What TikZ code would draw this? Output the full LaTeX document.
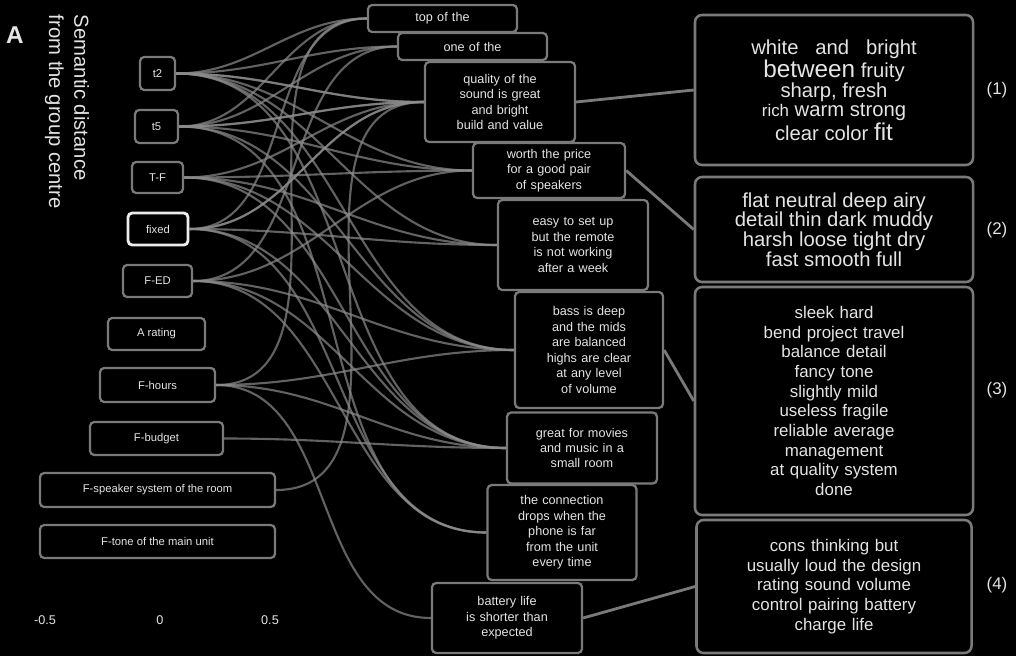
\documentclass[tikz,border=0pt]{standalone}
\usepackage{fontspec}
\setmainfont{Liberation Sans}
\usepackage{tikz}
\usetikzlibrary{
  positioning,
  calc
}
\usepackage{xcolor}
\definecolor{bgblack}{HTML}{000000}
\definecolor{framegray}{HTML}{7A7A7A}
\definecolor{linkgray}{HTML}{8C8C8C}
\definecolor{inkwhite}{HTML}{E4E4E4}
\tikzset{
  boxsize/.style 2 args={minimum width=#1*0.025cm, minimum height=#2*0.025cm},
  termbox/.style={
    rectangle, draw=framegray, rounded corners=3pt, line width=1.6pt,
    inner sep=1pt, font=\footnotesize, text=inkwhite, align=center
  },
  phrasebox/.style={
    rectangle, draw=framegray, rounded corners=3pt, line width=1.6pt,
    inner sep=2pt, font=\small, text=inkwhite, align=center,
    text width=3.5cm
  },
  cloudbox/.style={
    rectangle, draw=framegray, rounded corners=5pt, line width=1.8pt,
    inner sep=3pt, font=\large, text=inkwhite, align=center, text width=6.5cm
  },
  link/.style={draw=linkgray, line width=1.5pt, opacity=0.7},
  feed/.style={draw=framegray, line width=2pt},
}

\begin{document}
\begin{tikzpicture}[x=0.025cm, y=-0.025cm]

\fill[bgblack] (0,0) rectangle (1016,656);
\useasboundingbox (0,0) rectangle (1016,656);

% Panel label and axis title
\node[font=\LARGE\bfseries, text=inkwhite] (panel) at (15,35) {A};
\node[rotate=-90, anchor=north west, align=left, font=\Large, text=inkwhite] (axtitle) at (94,10) {Semantic distance\\from the group centre};

% Terms
\node[termbox, boxsize={35}{33}] (L1) at (157.5,73.5) {t2};
\node[termbox, boxsize={43}{33}] (L2) at (156.5,126.5) {t5};
\node[termbox, boxsize={51}{31}] (L3) at (157.5,177.5) {T-F};
\node[termbox, boxsize={60}{32}, line width=2pt, draw=inkwhite!70] (L4) at (158,229) {fixed};
\node[termbox, boxsize={69}{32}] (L5) at (157.5,281) {F-ED};
\node[termbox, boxsize={97}{32}] (L6) at (156.5,334) {A rating};
\node[termbox, boxsize={115}{34}] (L7) at (157.5,385) {F-hours};
\node[termbox, boxsize={133}{33}] (L8) at (156.5,438.5) {F-budget};
\node[termbox, boxsize={235}{34}] (L9) at (157.5,490) {F-speaker system of the room};
\node[termbox, boxsize={235}{33}] (L10) at (157.5,541.5) {F-tone of the main unit};

% Axis ticks
\node[font=\small, text=inkwhite] (tneg) at (45,620) {-0.5};
\node[font=\small, text=inkwhite] (tzero) at (160,620) {0};
\node[font=\small, text=inkwhite] (tpos) at (270,620) {0.5};

% Phrases
\node[phrasebox, boxsize={149}{27}] (M1) at (442.5,18.5) {top of the};
\node[phrasebox, boxsize={149}{27}] (M2) at (472.5,46.5) {one of the};
\node[phrasebox, boxsize={150}{80}] (M3) at (500,102) {quality of the\\sound is great\\and bright\\build and value};
\node[phrasebox, boxsize={152}{55}] (M4) at (549,170.5) {worth the price\\for a good pair\\of speakers};
\node[phrasebox, boxsize={150}{90}] (M5) at (573,245) {easy to set up\\but the remote\\is not working\\after a week};
\node[phrasebox, boxsize={148}{116}] (M6) at (589,350) {bass is deep\\and the mids\\are balanced\\highs are clear\\at any level\\of volume};
\node[phrasebox, boxsize={150}{71}] (M7) at (582,448) {great for movies\\and music in a\\small room};
\node[phrasebox, boxsize={149}{95}] (M8) at (562,532.5) {the connection\\drops when the\\phone is far\\from the unit\\every time};
\node[phrasebox, boxsize={150}{70}] (M9) at (507,618) {battery life\\is shorter than\\expected};

% Word clouds
\node[cloudbox, boxsize={278}{150}] (R1) at (834,90) {
  {\Large white}\quad{\Large and}\quad{\Large bright}\\
  {\LARGE between}\ {\Large fruity}\\
  {\Large sharp,}\ {\Large fresh}\\
  {\large rich}\ {\Large warm}\ {\Large strong}\\
  {\Large clear}\ {\Large color}\ {\LARGE fit}
};
\node[cloudbox, boxsize={278}{105}] (R2) at (834,229.5) {
  {\Large flat}\ {\Large neutral}\ {\Large deep}\ {\Large airy}\\
  {\Large detail}\ {\Large thin}\ {\Large dark}\ {\Large muddy}\\
  {\Large harsh}\ {\Large loose}\ {\Large tight}\ {\Large dry}\\
  {\Large fast}\ {\Large smooth}\ {\Large full}
};
\node[cloudbox, boxsize={278}{228}] (R3) at (834,401) {
  sleek\ hard\\
  bend\ project\ travel\\
  balance\ detail\\
  fancy\ tone\\
  slightly\ mild\\
  useless\ fragile\\
  reliable\ average\\
  management\\
  at\ quality\ system\\
  done
};
\node[cloudbox, boxsize={275}{133}] (R4) at (834,586.5) {
  cons\ thinking\ but\\
  usually\ loud\ the\ design\\
  rating\ sound\ volume\\
  control\ pairing\ battery\\
  charge\ life
};

\node[font=\large, text=inkwhite] (n1) at (997,90) {(1)};
\node[font=\large, text=inkwhite] (n2) at (997,230) {(2)};
\node[font=\large, text=inkwhite] (n3) at (997,390) {(3)};
\node[font=\large, text=inkwhite] (n4) at (997,585) {(4)};

% Term to phrase links
\foreach \a/\b in {L1/M1, L1/M2, L1/M3, L1/M3, L1/M4, L1/M5, L1/M6, L1/M7,
                   L2/M1, L2/M2, L2/M3, L2/M3, L2/M4, L2/M6, L2/M8,
                   L3/M3, L3/M4, L3/M5, L3/M6, L3/M7,
                   L4/M3, L4/M3, L4/M1, L4/M5, L4/M7, L4/M8,
                   L5/M2, L5/M4, L5/M6, L5/M7, L5/M8,
                   L7/M1, L7/M6, L7/M7, L7/M9,
                   L8/M7, L9/M3}
  \draw[link] (\a.east) to[out=0, in=180] (\b.west);

% Phrase to cloud
\draw[feed] (M3.east) -- (R1.west);
\draw[feed] (M4.east) -- (R2.west);
\draw[feed] (M6.east) -- (R3.west);
\draw[feed] (M9.east) -- (R4.west);

\end{tikzpicture}
\end{document}
